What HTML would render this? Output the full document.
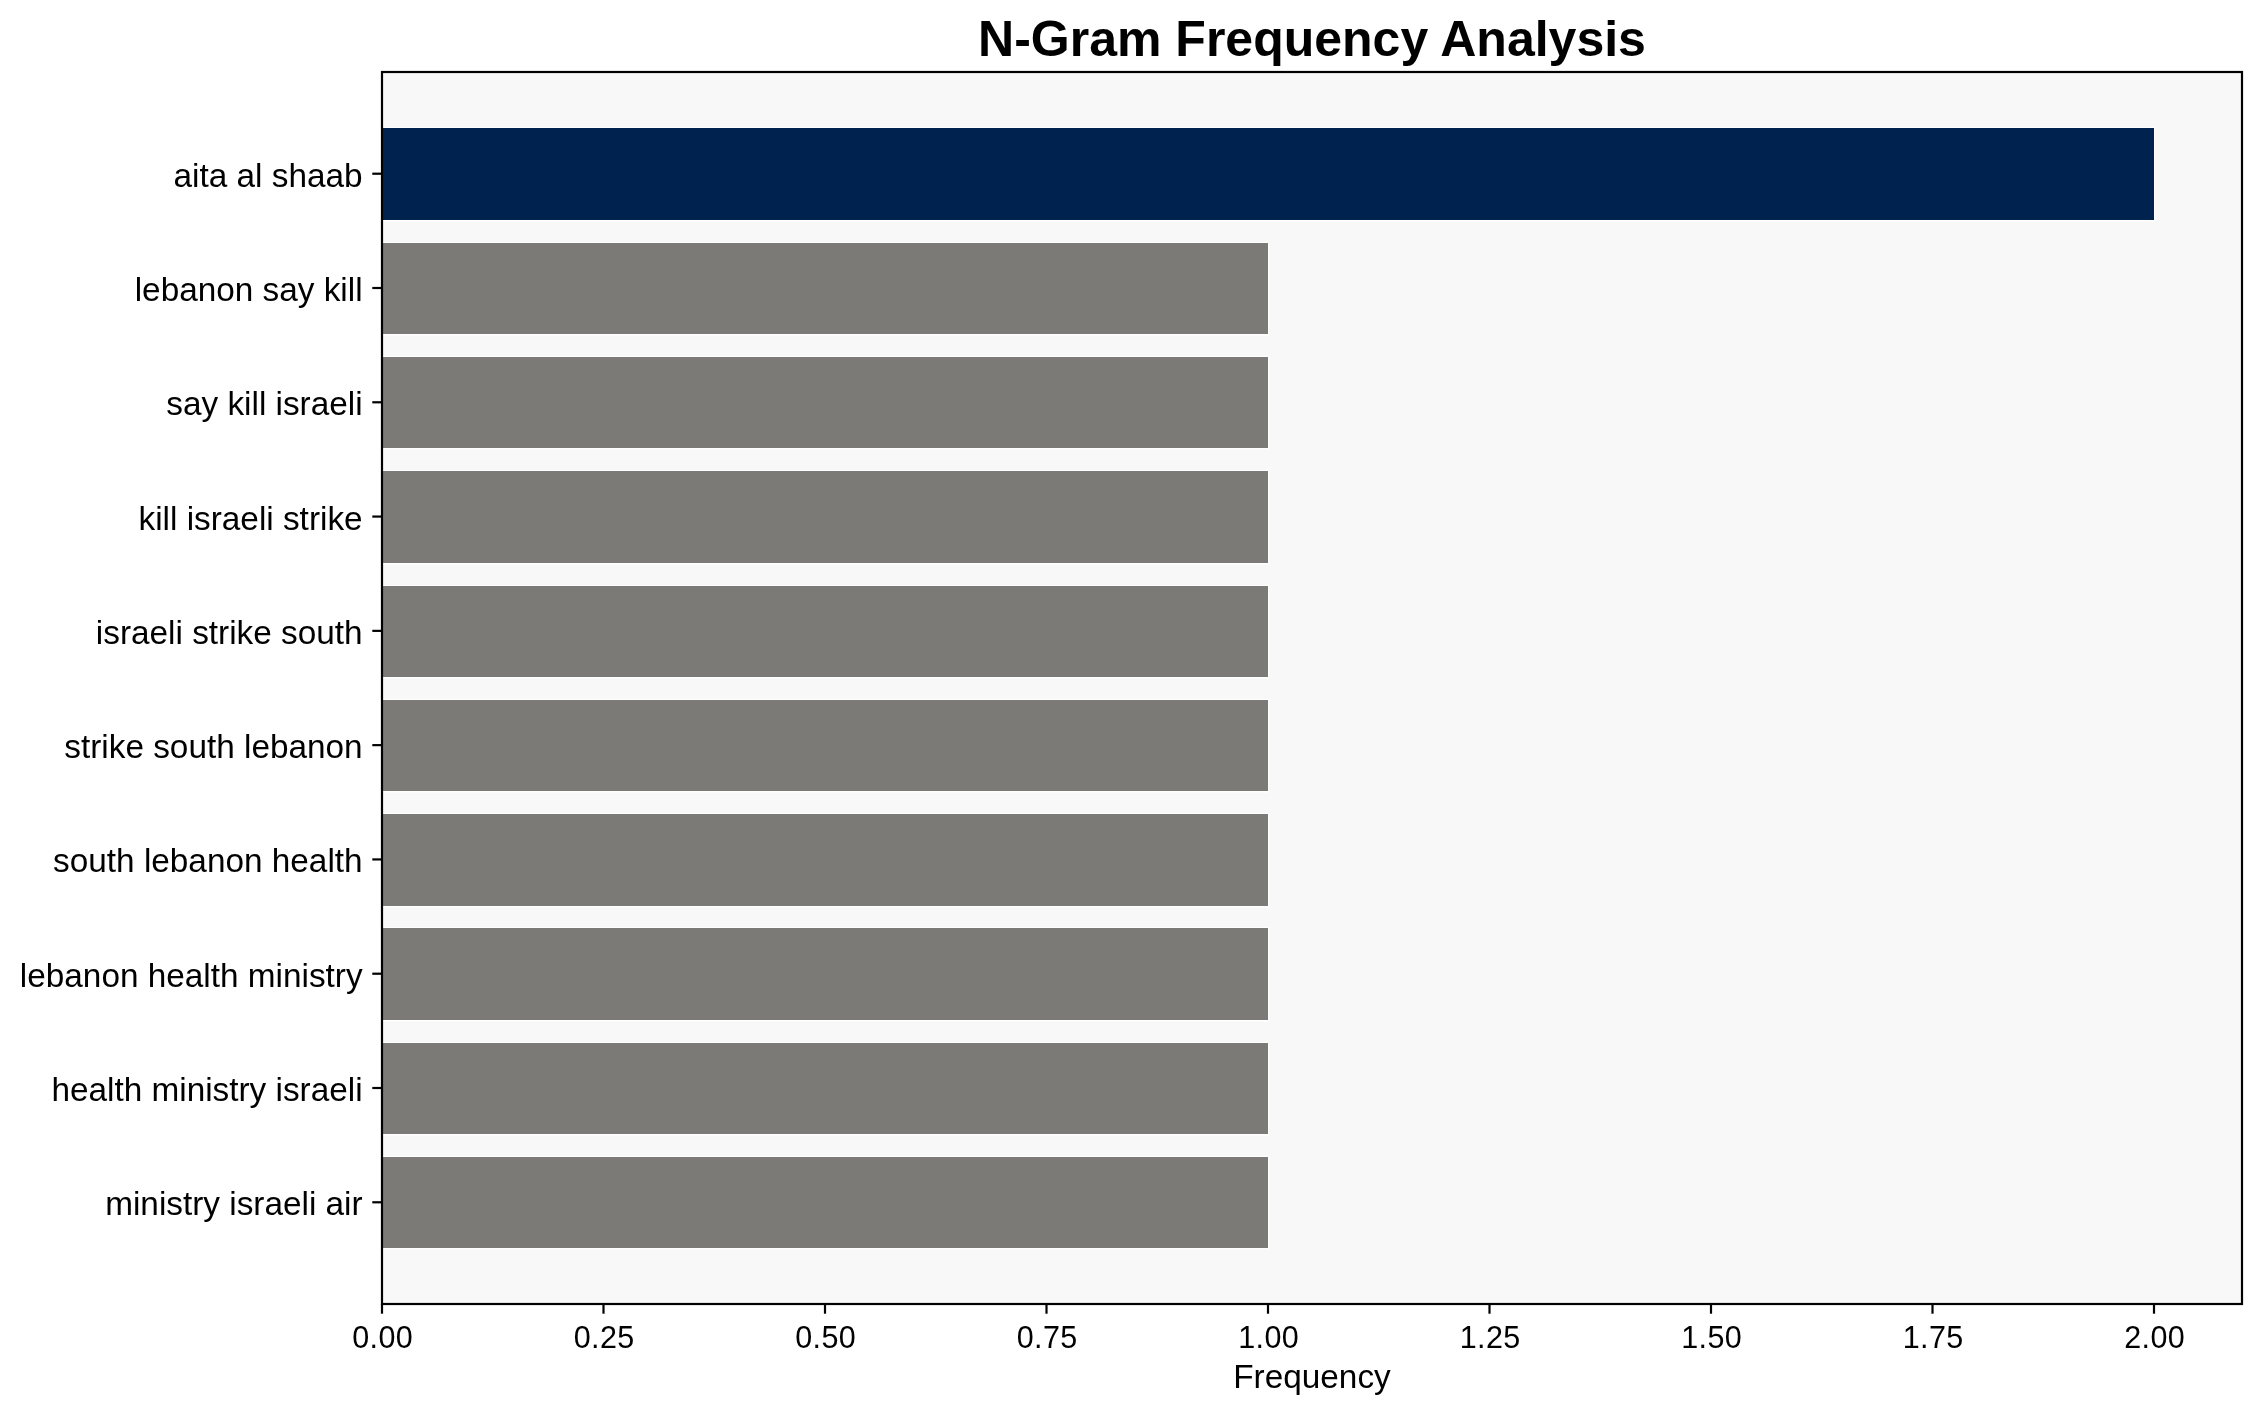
<!DOCTYPE html>
<html><head><meta charset="utf-8"><style>
html,body{margin:0;padding:0;background:#fff;width:2262px;height:1414px;overflow:hidden}
svg{display:block;will-change:transform}
text{font-family:"Liberation Sans",sans-serif;fill:#000}
.yl{font-size:33.33px;text-anchor:end}
.xl{font-size:30.5px;text-anchor:middle;letter-spacing:0.3px}
.xlab{font-size:33.33px;text-anchor:middle}
.title{font-size:50px;font-weight:bold;text-anchor:middle}
</style></head><body>
<svg width="2262" height="1414" viewBox="0 0 2262 1414">
<rect x="382.0" y="72.0" width="1860.0" height="1232.0" fill="#f8f8f8"/>
<rect x="381.00" y="127" width="1774.30" height="94.60" fill="#fff"/>
<rect x="382.00" y="128" width="1772.00" height="92" fill="#00224f"/>
<rect x="381.00" y="242" width="888.30" height="93.60" fill="#fff"/>
<rect x="382.00" y="243" width="886.00" height="91" fill="#7b7a76"/>
<rect x="381.00" y="356" width="888.30" height="93.60" fill="#fff"/>
<rect x="382.00" y="357" width="886.00" height="91" fill="#7b7a76"/>
<rect x="381.00" y="470" width="888.30" height="94.60" fill="#fff"/>
<rect x="382.00" y="471" width="886.00" height="92" fill="#7b7a76"/>
<rect x="381.00" y="585" width="888.30" height="93.60" fill="#fff"/>
<rect x="382.00" y="586" width="886.00" height="91" fill="#7b7a76"/>
<rect x="381.00" y="699" width="888.30" height="93.60" fill="#fff"/>
<rect x="382.00" y="700" width="886.00" height="91" fill="#7b7a76"/>
<rect x="381.00" y="813" width="888.30" height="94.60" fill="#fff"/>
<rect x="382.00" y="814" width="886.00" height="92" fill="#7b7a76"/>
<rect x="381.00" y="927" width="888.30" height="94.60" fill="#fff"/>
<rect x="382.00" y="928" width="886.00" height="92" fill="#7b7a76"/>
<rect x="381.00" y="1042" width="888.30" height="93.60" fill="#fff"/>
<rect x="382.00" y="1043" width="886.00" height="91" fill="#7b7a76"/>
<rect x="381.00" y="1156" width="888.30" height="93.60" fill="#fff"/>
<rect x="382.00" y="1157" width="886.00" height="91" fill="#7b7a76"/>
<rect x="382.0" y="72.0" width="1860.0" height="1232.0" fill="none" stroke="#000" stroke-width="2.2" stroke-linejoin="miter"/>
<line x1="372.30" y1="173.71" x2="382.0" y2="173.71" stroke="#000" stroke-width="2.2"/>
<text class="yl" x="362.6" y="186.71">aita al shaab</text>
<line x1="372.30" y1="288.00" x2="382.0" y2="288.00" stroke="#000" stroke-width="2.2"/>
<text class="yl" x="362.6" y="301.00">lebanon say kill</text>
<line x1="372.30" y1="402.29" x2="382.0" y2="402.29" stroke="#000" stroke-width="2.2"/>
<text class="yl" x="362.6" y="415.29">say kill israeli</text>
<line x1="372.30" y1="516.57" x2="382.0" y2="516.57" stroke="#000" stroke-width="2.2"/>
<text class="yl" x="362.6" y="529.57">kill israeli strike</text>
<line x1="372.30" y1="630.86" x2="382.0" y2="630.86" stroke="#000" stroke-width="2.2"/>
<text class="yl" x="362.6" y="643.86">israeli strike south</text>
<line x1="372.30" y1="745.14" x2="382.0" y2="745.14" stroke="#000" stroke-width="2.2"/>
<text class="yl" x="362.6" y="758.14">strike south lebanon</text>
<line x1="372.30" y1="859.43" x2="382.0" y2="859.43" stroke="#000" stroke-width="2.2"/>
<text class="yl" x="362.6" y="872.43">south lebanon health</text>
<line x1="372.30" y1="973.71" x2="382.0" y2="973.71" stroke="#000" stroke-width="2.2"/>
<text class="yl" x="362.6" y="986.71">lebanon health ministry</text>
<line x1="372.30" y1="1088.00" x2="382.0" y2="1088.00" stroke="#000" stroke-width="2.2"/>
<text class="yl" x="362.6" y="1101.00">health ministry israeli</text>
<line x1="372.30" y1="1202.29" x2="382.0" y2="1202.29" stroke="#000" stroke-width="2.2"/>
<text class="yl" x="362.6" y="1215.29">ministry israeli air</text>
<line x1="382.00" y1="1304.0" x2="382.00" y2="1313.70" stroke="#000" stroke-width="2.2"/>
<text class="xl" x="382.65" y="1347.6">0.00</text>
<line x1="603.50" y1="1304.0" x2="603.50" y2="1313.70" stroke="#000" stroke-width="2.2"/>
<text class="xl" x="604.15" y="1347.6">0.25</text>
<line x1="825.00" y1="1304.0" x2="825.00" y2="1313.70" stroke="#000" stroke-width="2.2"/>
<text class="xl" x="825.65" y="1347.6">0.50</text>
<line x1="1046.50" y1="1304.0" x2="1046.50" y2="1313.70" stroke="#000" stroke-width="2.2"/>
<text class="xl" x="1047.15" y="1347.6">0.75</text>
<line x1="1268.00" y1="1304.0" x2="1268.00" y2="1313.70" stroke="#000" stroke-width="2.2"/>
<text class="xl" x="1268.65" y="1347.6">1.00</text>
<line x1="1489.50" y1="1304.0" x2="1489.50" y2="1313.70" stroke="#000" stroke-width="2.2"/>
<text class="xl" x="1490.15" y="1347.6">1.25</text>
<line x1="1711.00" y1="1304.0" x2="1711.00" y2="1313.70" stroke="#000" stroke-width="2.2"/>
<text class="xl" x="1711.65" y="1347.6">1.50</text>
<line x1="1932.50" y1="1304.0" x2="1932.50" y2="1313.70" stroke="#000" stroke-width="2.2"/>
<text class="xl" x="1933.15" y="1347.6">1.75</text>
<line x1="2154.00" y1="1304.0" x2="2154.00" y2="1313.70" stroke="#000" stroke-width="2.2"/>
<text class="xl" x="2154.65" y="1347.6">2.00</text>
<text class="xlab" x="1312" y="1387.8">Frequency</text>
<text class="title" x="1312" y="56">N-Gram Frequency Analysis</text>
</svg>
</body></html>
